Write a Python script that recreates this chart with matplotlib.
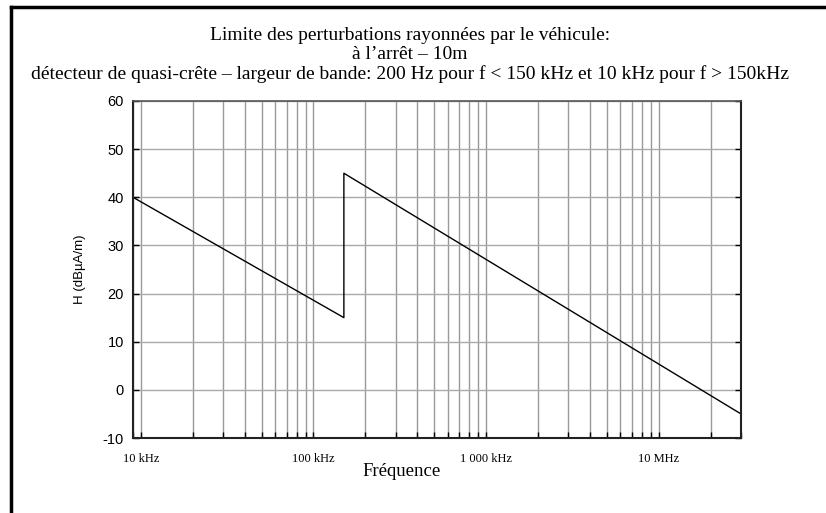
import numpy as np
import matplotlib.pyplot as plt
from matplotlib.ticker import FixedLocator, NullFormatter
from matplotlib.lines import Line2D

plt.rcParams['axes.unicode_minus'] = False

# Limit data: frequency (Hz) and level (dBuA/m)
freq = [9e3, 150e3, 150e3, 30e6]
level = [40, 15, 45, -5]

yticks = [-10, 0, 10, 20, 30, 40, 50, 60]
xmajor = [1e4, 1e5, 1e6, 1e7]
xmajor_labels = ['10 kHz', '100 kHz', '1 000 kHz', '10 MHz']

title_lines = ['Limite des perturbations rayonnées par le véhicule:',
               'à l\u2019arrêt \u2013 10m',
               'détecteur de quasi-crête \u2013 largeur de bande: 200 Hz pour f < 150 kHz et 10 kHz pour f > 150kHz']

serif = 'Liberation Serif'
sans = 'Liberation Sans'

fig = plt.figure(figsize=(8.26, 5.13), dpi=100)
ax = fig.add_axes([133 / 826, 1 - 438 / 513, (741 - 133) / 826, (438 - 101) / 513])

ax.plot(freq, level, color='black', lw=1.0)
ax.set_xscale('log')
ax.set_xlim(9e3, 30e6)
ax.set_ylim(-10, 60)

# minor grid positions 2..9 per decade
minors = [m * 10 ** d for d in range(3, 8) for m in range(2, 10)]
ax.xaxis.set_major_locator(FixedLocator(xmajor))
ax.xaxis.set_minor_locator(FixedLocator(minors))
ax.xaxis.set_minor_formatter(NullFormatter())
ax.set_xticklabels(xmajor_labels, fontfamily=serif, fontsize=9)
ax.set_yticks(yticks)
for lab in ax.get_yticklabels():
    lab.set_fontfamily(sans)
    lab.set_fontsize(10.5)

ax.grid(True, which='both', axis='x', color='#999999', lw=1.0)
ax.grid(True, which='major', axis='y', color='#aaaaaa', lw=1.0)

ax.tick_params(axis='y', direction='in', length=4, right=True, width=1, pad=6.5)
ax.tick_params(axis='x', which='both', direction='in', length=4, width=1, pad=10.5)
for s in ['left', 'bottom', 'right']:
    ax.spines[s].set_linewidth(1.5)
    ax.spines[s].set_color('#222222')
ax.spines['top'].set_linewidth(1.2)
ax.spines['top'].set_color('#555555')

ax.set_ylabel('H (dBµA/m)', fontfamily=sans, fontsize=9.5, labelpad=12)
fig.text(402 / 826, 1 - 472 / 513, 'Fréquence', ha='center', va='center',
         fontfamily=serif, fontsize=13.5)

for i, t in enumerate(title_lines):
    fig.text(410 / 826, 1 - (36 + 19 * i) / 513, t, ha='center', va='center',
             fontfamily=serif, fontsize=14)

# outer frame: top and left only
fig.add_artist(Line2D([11 / 826, 1], [1 - 7 / 513, 1 - 7 / 513], color='black', lw=2.5))
fig.add_artist(Line2D([11 / 826, 11 / 826], [0, 1 - 7 / 513], color='black', lw=2.5))

fig.savefig('out.png', dpi=100)
